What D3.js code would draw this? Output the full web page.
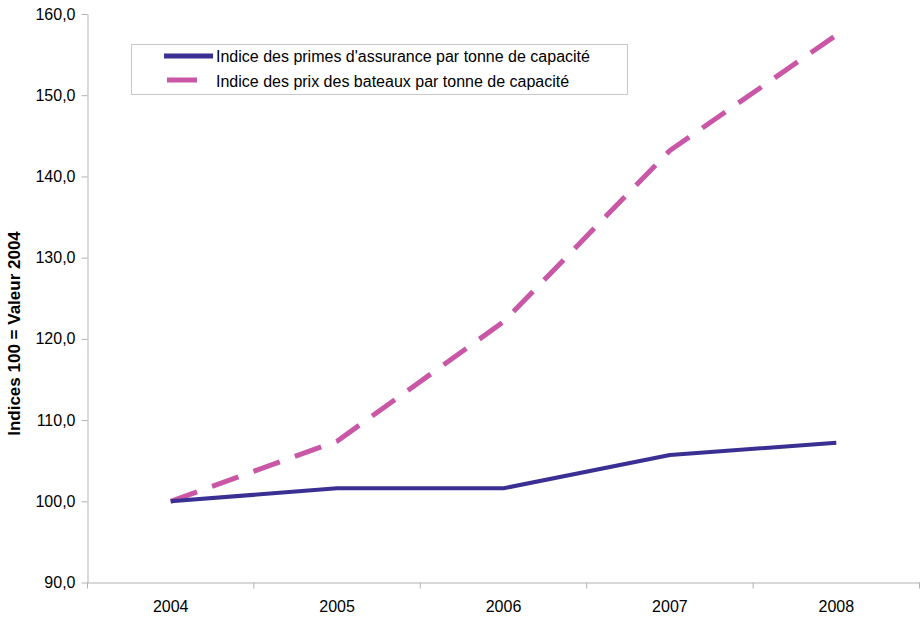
<!DOCTYPE html>
<html>
<head>
<meta charset="utf-8">
<script src="https://cdn.jsdelivr.net/npm/d3@7"></script>
<style>
  html, body { margin: 0; padding: 0; background: #fff; }
  svg { display: block; font-family: "Liberation Sans", Arial, sans-serif; }
</style>
</head>
<body>
<svg id="chart" width="921" height="619"></svg>
<script>
// Years on the horizontal axis
const years = ["2004", "2005", "2006", "2007", "2008"];
// Index of insurance premiums per tonne of capacity (2004 = 100)
const primes = [100.0, 101.6, 101.6, 105.7, 107.2];
// Index of ship prices per tonne of capacity (2004 = 100)
const prix = [100.0, 107.4, 122.1, 143.2, 157.4];
// Vertical axis ticks
const yTicks = [90, 100, 110, 120, 130, 140, 150, 160];

const seriesNames = [
  "Indice des primes d'assurance par tonne de capacité",
  "Indice des prix des bateaux par tonne de capacité"
];

const svg = d3.select("#chart");
const plotLeft = 87.5, plotRight = 919.5, plotTop = 14, plotBottom = 582.5;

const x = d3.scaleBand().domain(years).range([plotLeft, plotRight]);
const y = d3.scaleLinear().domain([90, 160]).range([plotBottom, plotTop]);

const axisColor = "#b3b3b3";
const fontFamily = "'Liberation Sans', Arial, sans-serif";
const fmt = v => v.toFixed(1).replace(".", ",");

// Y axis
const yAxis = svg.append("g")
  .attr("transform", `translate(${plotLeft},0)`)
  .call(d3.axisLeft(y).tickValues(yTicks).tickFormat(fmt).tickSize(6).tickSizeOuter(0).tickPadding(6));
yAxis.select(".domain").attr("stroke", axisColor);
yAxis.selectAll(".tick line").attr("stroke", axisColor);
yAxis.selectAll(".tick text").attr("font-size", "16px").attr("fill", "#000")
  .attr("font-family", fontFamily);

// X axis with ticks at category boundaries
const xAxis = svg.append("g")
  .attr("transform", `translate(0,${plotBottom})`)
  .call(d3.axisBottom(x).tickSize(0));
xAxis.select(".domain").attr("stroke", axisColor);
xAxis.selectAll(".tick text")
  .attr("y", 29.5).attr("dy", 0)
  .attr("font-size", "16px").attr("fill", "#000")
  .attr("font-family", fontFamily);
const bounds = years.map(d => x(d)).concat([x(years[years.length - 1]) + x.bandwidth()]);
xAxis.selectAll(".bound").data(bounds).enter().append("line")
  .attr("class", "bound")
  .attr("x1", d => d).attr("x2", d => d)
  .attr("y1", 0).attr("y2", 6)
  .attr("stroke", axisColor);

// Y axis title
svg.append("text")
  .attr("transform", "translate(19.5,333.5) rotate(-90)")
  .attr("text-anchor", "middle")
  .attr("font-size", "17px")
  .attr("font-weight", "bold")
  .text("Indices 100 = Valeur 2004");

const line = d3.line()
  .x((d, i) => x(years[i]) + x.bandwidth() / 2)
  .y(d => y(d));

const navy = "#3a2f92";
const pink = "#c957a6";

svg.append("path")
  .datum(prix)
  .attr("fill", "none")
  .attr("stroke", pink)
  .attr("stroke-width", 5)
  .attr("stroke-dasharray", "28,16")
  .attr("stroke-linejoin", "round")
  .attr("d", line);

svg.append("path")
  .datum(primes)
  .attr("fill", "none")
  .attr("stroke", navy)
  .attr("stroke-width", 4)
  .attr("stroke-linejoin", "round")
  .attr("d", line);

// Legend
const lg = svg.append("g");
lg.append("rect")
  .attr("x", 131.5).attr("y", 44.5).attr("width", 496).attr("height", 50)
  .attr("fill", "#fff").attr("stroke", "#c8c8c8");
lg.append("line")
  .attr("x1", 164).attr("x2", 213).attr("y1", 56).attr("y2", 56)
  .attr("stroke", navy).attr("stroke-width", 5);
lg.append("line")
  .attr("x1", 167).attr("x2", 197).attr("y1", 80).attr("y2", 80)
  .attr("stroke", pink).attr("stroke-width", 5);
lg.selectAll("text.leg").data(seriesNames).enter().append("text")
  .attr("class", "leg")
  .attr("x", 216)
  .attr("y", (d, i) => 62 + i * 24.5)
  .attr("font-size", "16px")
  .text(d => d);
</script>
</body>
</html>
